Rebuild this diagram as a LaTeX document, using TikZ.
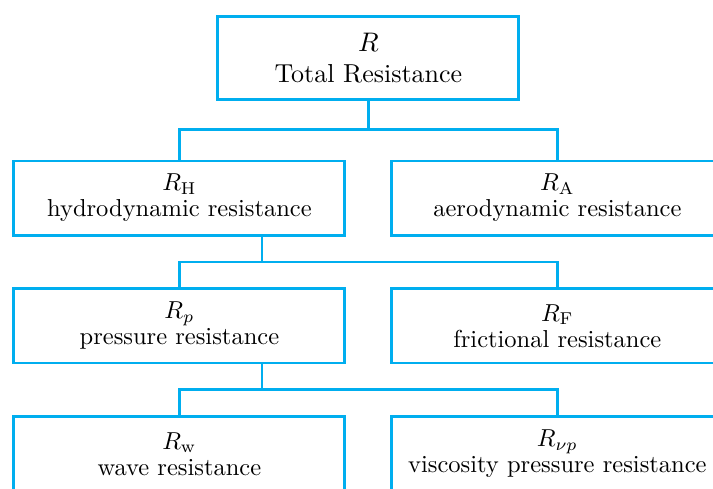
\documentclass[tikz,border=0pt]{standalone}
\usepackage{amsmath}
\usepackage{xcolor}
\usepackage{tikz}
\usetikzlibrary{positioning, calc}
\definecolor{treecyan}{HTML}{00AEEF}

\begin{document}
\begin{tikzpicture}[font=\fontsize{10pt}{10.6pt}\selectfont,
  s/.style={rectangle, draw=treecyan, line width=1.2pt, fill=white,
            align=center, minimum width=135pt, minimum height=30.2pt, inner sep=0pt},
  t/.style={s, minimum width=122.8pt, minimum height=33.9pt,
            font=\fontsize{10.6pt}{12.7pt}\selectfont},
  c/.style={treecyan, line width=1.2pt}]
\useasboundingbox (-73.2pt,-118.7pt) rectangle (217.7pt,80.8pt);
\node[s] (rh) at (0,0) {$R_{\mathrm{H}}$\\hydrodynamic resistance};
\node[s, right=18pt of rh] (ra) {$R_{\mathrm{A}}$\\aerodynamic resistance};
\node[s, below=20.8pt of rh] (rp) {$R_p$\\pressure resistance};
\node[s, right=18pt of rp] (rf) {$R_{\mathrm{F}}$\\frictional resistance};
\node[s, below=20.8pt of rp] (rw) {$R_{\mathrm{w}}$\\wave resistance};
\node[s, right=18pt of rw] (rvp) {$R_{\nu p}$\\viscosity pressure resistance};
\coordinate (mid) at ($(rh.north)!0.5!(ra.north)$);
\node[t, above=23.9pt of mid] (r) {$R$\\Total Resistance};
% tree lines
\draw[c] (r.south) -- ++(0,-11.6pt) coordinate (j1);
\draw[c] (rh.north) |- (j1) -| (ra.north);
\draw[c] ([xshift=33.7pt]rh.south) -- ++(0,-10.4pt) coordinate (j2);
\draw[c] (rp.north) |- (j2) -| (rf.north);
\draw[c] ([xshift=33.7pt]rp.south) -- ++(0,-10.4pt) coordinate (j3);
\draw[c] (rw.north) |- (j3) -| (rvp.north);
\end{tikzpicture}
\end{document}
